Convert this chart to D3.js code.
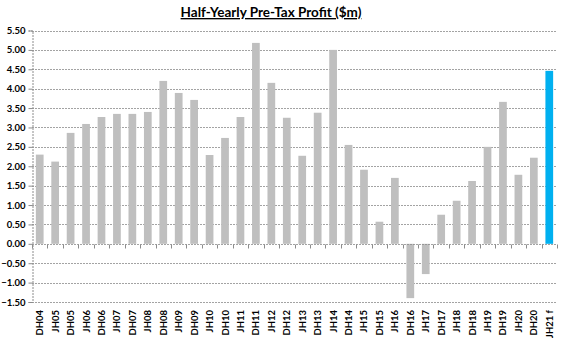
<!DOCTYPE html>
<html><head><meta charset="utf-8">
<script src="https://cdn.jsdelivr.net/npm/d3@7"></script>
<style>body{margin:0;background:#fff}svg{display:block}</style>
</head><body>
<script>
const categories = ["DH04","JH05","DH05","JH06","DH06","JH07","DH07","JH08","DH08","JH09","DH09","JH10","DH10","JH11","DH11","JH12","DH12","JH13","DH13","JH14","DH14","JH15","DH15","JH16","DH16","JH17","DH17","JH18","DH18","JH19","DH19","JH20","DH20","JH21 f"];
const profit = [2.30,2.12,2.86,3.09,3.27,3.35,3.35,3.40,4.20,3.89,3.71,2.29,2.73,3.27,5.18,4.15,3.25,2.27,3.38,5.00,2.55,1.91,0.57,1.70,-1.40,-0.78,0.75,1.11,1.62,2.50,3.66,1.78,2.22,4.46];
const highlight = ["JH21 f"];
const yTicks = [-1.5,-1.0,-0.5,0,0.5,1.0,1.5,2.0,2.5,3.0,3.5,4.0,4.5,5.0,5.5];
const title = "Half-Yearly Pre-Tax Profit ($m)";

const W = 566, H = 338;
const m = {left: 32, right: 9, top: 30.5, bottom: 36};
const svg = d3.select("body").append("svg").attr("width", W).attr("height", H);
const font = "Lato, 'Open Sans', sans-serif";

const x = d3.scaleBand().domain(categories).range([m.left, W - m.right]).paddingInner(0.5).paddingOuter(0.25);
const y = d3.scaleLinear().domain([-1.5, 5.5]).range([H - m.bottom, m.top]);

// title
svg.append("text").attr("x", 271).attr("y", 17).attr("text-anchor", "middle")
  .attr("font-family", font).attr("font-weight", "bold").attr("font-size", 13.5)
  .attr("text-decoration", "underline").attr("fill", "#000").text(title);

// gridlines
svg.append("g").selectAll("line").data(yTicks.filter(d => d !== 0)).join("line")
  .attr("x1", m.left).attr("x2", W - m.right)
  .attr("y1", d => Math.round(y(d)) + 0.5).attr("y2", d => Math.round(y(d)) + 0.5)
  .attr("stroke", "#8c8c8c").attr("stroke-width", 0.8).attr("stroke-dasharray", "2,1");

// y axis
const yAxis = d3.axisLeft(y).tickValues(yTicks).tickFormat(d3.format(".2f")).tickSize(4).tickPadding(3);
const gy = svg.append("g").attr("transform", `translate(${m.left + 0.5},0)`).call(yAxis);
gy.select(".domain").attr("stroke", "#8c8c8c").attr("stroke-dasharray", "2,1");
gy.selectAll(".tick line").attr("stroke", "#8c8c8c");
gy.selectAll(".tick text").attr("font-family", font).attr("font-weight", "bold").attr("font-size", 9.5).attr("fill", "#000");

// bars
svg.append("g").selectAll("rect").data(categories).join("rect")
  .attr("x", d => x(d))
  .attr("width", x.bandwidth())
  .attr("y", (d, i) => y(Math.max(0, profit[i])))
  .attr("height", (d, i) => Math.abs(y(profit[i]) - y(0)))
  .attr("fill", d => highlight.includes(d) ? "#00b0f0" : "#bfbfbf");

// zero axis with ticks at band boundaries
const y0 = Math.round(y(0)) + 0.5;
svg.append("line").attr("x1", m.left).attr("x2", W - m.right).attr("y1", y0).attr("y2", y0)
  .attr("stroke", "#8c8c8c").attr("stroke-width", 0.8).attr("stroke-dasharray", "2,1");
const step = x.step();
const bounds = d3.range(categories.length + 1).map(i => m.left + i * (W - m.right - m.left) / categories.length);
svg.append("g").selectAll("line").data(bounds).join("line")
  .attr("x1", d => Math.round(d) + 0.5).attr("x2", d => Math.round(d) + 0.5)
  .attr("y1", y0).attr("y2", y0 + 4).attr("stroke", "#8c8c8c");

// x labels
svg.append("g").selectAll("text").data(categories).join("text")
  .attr("transform", d => `translate(${x(d) + x.bandwidth() / 2 + 3.5},${H - m.bottom + 8}) rotate(-90)`)
  .attr("text-anchor", "end")
  .attr("font-family", font).attr("font-weight", "bold").attr("font-size", 9.5).attr("fill", "#000")
  .text(d => d);
</script>
</body></html>
